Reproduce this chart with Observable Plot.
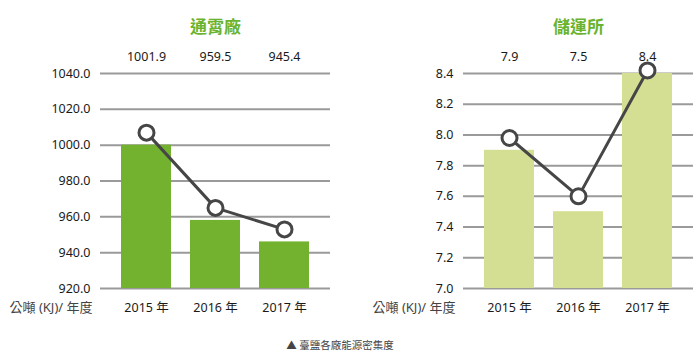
<!DOCTYPE html>
<html>
<head>
<meta charset="utf-8">
<script src="https://cdn.jsdelivr.net/npm/d3@7"></script>
<script src="https://cdn.jsdelivr.net/npm/@observablehq/plot@0.6"></script>
<style>
  body { margin: 0; background: #fff; font-family: "Noto Sans", "Noto Sans CJK TC", sans-serif; }
  #wrap { position: relative; width: 700px; height: 363px; }
  .panel { position: absolute; top: 0; }
  #caption { position: absolute; left: 0; width: 680px; top: 337px; text-align: center;
    font-size: 10.5px; color: #444; font-family: "Noto Sans CJK TC", sans-serif; }
</style>
</head>
<body>
<div id="wrap">
  <div class="panel" id="left" style="left:0"></div>
  <div class="panel" id="right" style="left:350px"></div>
  <div id="caption">▲ 臺鹽各廠能源密集度</div>
</div>
<script>
const years = ["2015 年", "2016 年", "2017 年"];
const unitLabel = "公噸 (KJ)/ 年度";

const titleA = "通霄廠";
const labelsA = ["1001.9", "959.5", "945.4"];
const barsA = [1000, 958, 946];
const lineA = [1007, 965, 953];
const ticksA = [920, 940, 960, 980, 1000, 1020, 1040];

const titleB = "儲運所";
const labelsB = ["7.9", "7.5", "8.4"];
const barsB = [7.9, 7.5, 8.4];
const lineB = [7.98, 7.6, 8.42];
const ticksB = [7.0, 7.2, 7.4, 7.6, 7.8, 8.0, 8.2, 8.4];

const font = "'Noto Sans', 'Noto Sans CJK TC', sans-serif";

function panel({title, labels, bars, line, ticks, color, marginLeft, marginRight}) {
  const lo = ticks[0], hi = ticks[ticks.length - 1];
  const data = years.map((y, i) => ({year: y, bar: bars[i], line: line[i], label: labels[i]}));
  return Plot.plot({
    width: 350,
    height: 320,
    marginTop: 73,
    marginBottom: 32,
    marginLeft,
    marginRight,
    style: {fontFamily: font, fontSize: "12.5px", color: "#1a1a1a", background: "transparent"},
    x: {domain: years, paddingInner: 0.275, paddingOuter: 0.304, label: null, tickSize: 0, tickPadding: 15},
    y: {domain: [lo, hi], ticks, tickFormat: d3.format(".1f"), label: null, tickSize: 0, tickPadding: 10},
    marks: [
      Plot.ruleY(ticks, {stroke: "#9a9a9a", strokeWidth: 2}),
      Plot.barY(data, {x: "year", y1: () => lo, y2: "bar", fill: color}),
      Plot.line(data, {x: "year", y: "line", stroke: "#464646", strokeWidth: 3}),
      Plot.dot(data, {x: "year", y: "line", r: 7.5, fill: "white", stroke: "#464646", strokeWidth: 3}),
      Plot.text(data, {x: "year", text: "label", frameAnchor: "top", dy: -21, fontSize: 12.5, fill: "#1a1a1a"}),
      Plot.text([title], {frameAnchor: "top", dy: -53, fontSize: 17, fontWeight: "bold", fill: "#6ab32e"}),
      Plot.text([unitLabel], {frameAnchor: "bottom-left", dx: -8, dy: 23, textAnchor: "end", fontSize: 13, fill: "#444"})
    ]
  });
}

document.getElementById("left").appendChild(panel({
  title: titleA, labels: labelsA, bars: barsA, line: lineA, ticks: ticksA,
  color: "#72b22f", marginLeft: 100, marginRight: 20
}));
document.getElementById("right").appendChild(panel({
  title: titleB, labels: labelsB, bars: barsB, line: lineB, ticks: ticksB,
  color: "#d4df93", marginLeft: 113, marginRight: 7
}));
</script>
</body>
</html>
